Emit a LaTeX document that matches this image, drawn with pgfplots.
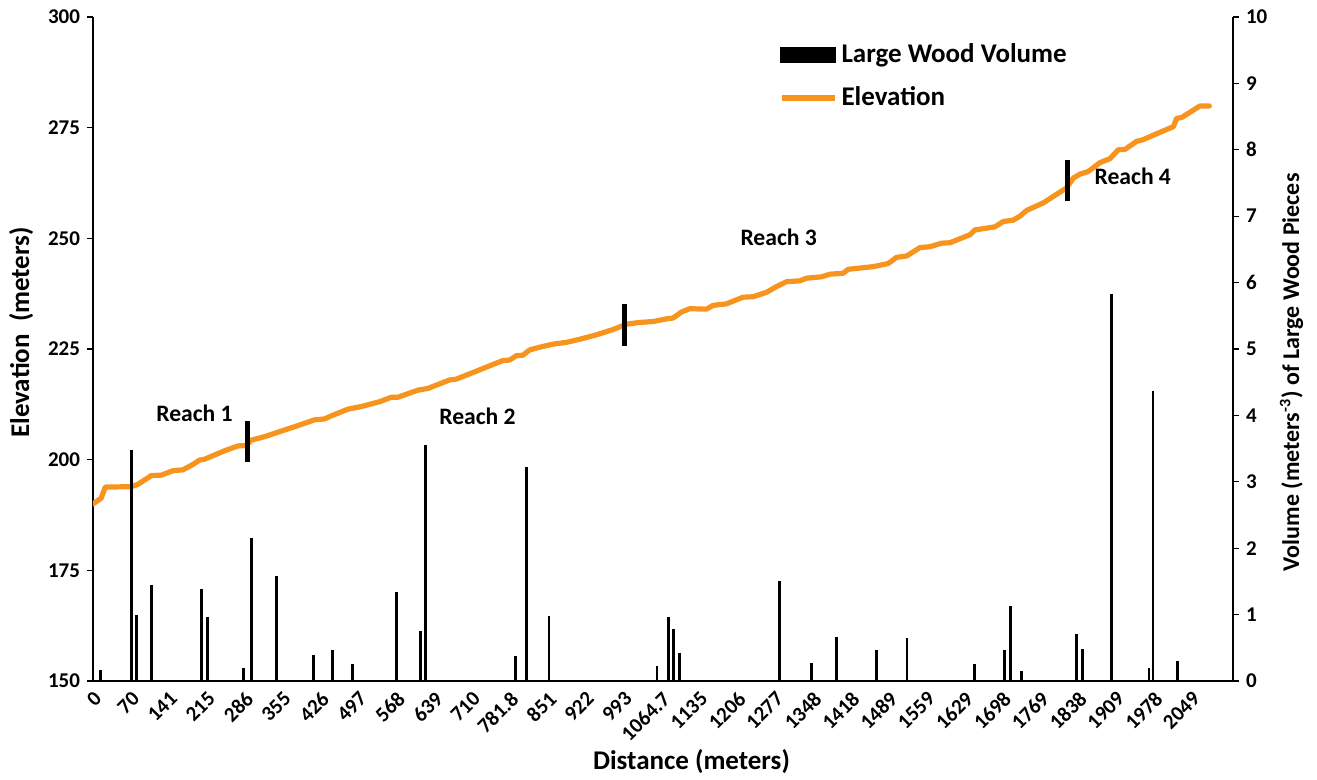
\documentclass[border=0pt]{standalone}
\usepackage{pgfplots}
\pgfplotsset{compat=1.18}
\usepackage{fontspec}
\setmainfont{Carlito}
\definecolor{elev}{RGB}{247,148,29}

\pgfplotstableread{
x y
0 190.0
15.3 191.3
22.8 193.8
71.3 193.9
83.6 194.4
108.6 196.4
127.3 196.5
148.9 197.5
167.6 197.7
186.2 198.9
198.8 199.9
208.1 200.1
245.4 202.0
270.2 203.1
285.9 203.2
295.2 204.4
320.1 205.2
344.9 206.2
382.2 207.7
413.4 209.0
432.0 209.2
444.5 209.9
475.5 211.4
500.5 212.0
534.7 213.1
556.5 214.1
568.8 214.1
606.1 215.7
624.8 216.1
665.3 218.0
677.8 218.2
721.3 220.3
764.8 222.4
777.3 222.5
789.8 223.5
802.1 223.6
814.6 224.8
833.3 225.4
858.1 226.1
883.1 226.5
907.9 227.2
939.1 228.2
970.1 229.4
995.1 230.6
1019.9 231.0
1044.7 231.2
1069.7 231.8
1082.0 232.0
1097.7 233.35
1113.2 234.1
1144.3 234.0
1156.7 234.85
1181.7 235.2
1212.7 236.7
1231.3 236.8
1256.3 237.8
1275.0 239.1
1293.6 240.2
1318.5 240.4
1331.0 241.0
1358.9 241.3
1374.4 241.9
1399.3 242.1
1408.6 243.0
1455.3 243.6
1483.2 244.3
1498.9 245.7
1517.6 246.0
1542.4 247.9
1561.1 248.1
1582.9 248.9
1598.4 249.0
1635.7 250.8
1645.1 251.9
1666.9 252.3
1682.4 252.6
1697.9 253.8
1716.5 254.1
1729.0 255.0
1741.5 256.3
1772.5 258.0
1794.3 259.7
1816.2 261.4
1828.5 263.6
1841.0 264.5
1856.5 265.1
1878.3 267.1
1897.0 268.0
1912.5 270.0
1925.0 270.1
1946.8 271.9
1959.1 272.3
1977.8 273.3
2008.9 274.9
2015.1 275.2
2021.4 277.1
2030.8 277.3
2064.9 279.9
2082.3 279.9
}\elevtable

\pgfplotstableread{
x v
13.4 0.16
71.3 3.48
81.2 1.00
109.7 1.44
202.5 1.39
213.1 0.96
280.3 0.20
296.4 2.16
342.4 1.58
411.5 0.39
446.4 0.47
484.3 0.26
566.4 1.34
611.2 0.76
620.0 3.55
787.9 0.38
809.0 3.22
850.6 0.98
1052.2 0.23
1074.0 0.97
1083.4 0.78
1094.6 0.42
1280.2 1.50
1340.9 0.27
1387.0 0.66
1462.2 0.47
1518.2 0.65
1643.8 0.26
1700.1 0.46
1711.3 1.13
1731.5 0.15
1834.1 0.71
1845.3 0.48
1900.2 5.83
1969.8 0.20
1977.3 4.36
2023.4 0.30
}\woodtable

\begin{document}
\begin{tikzpicture}
\path[use as bounding box] (-46.5pt,-49.5pt) rectangle (612pt,340.5pt);
\pgfplotsset{
  every axis/.append style={
    scale only axis, width=570pt, height=332pt,
    xmin=0, xmax=2126.5, at={(0,0)}, anchor=south west,
    axis line style={black, line width=0.7pt},
    tick align=outside, major tick length=3pt,
    tick style={black, line width=0.6pt},
    tick label style={font=\bfseries\fontsize{10.5}{12}\selectfont},
    label style={font=\bfseries\fontsize{13.5}{15}\selectfont},
    /pgf/number format/assume math mode=true,
  }
}
\begin{axis}[
  axis x line*=bottom, axis y line*=left,
  ymin=150, ymax=300, ytick={150,175,...,300},
  xtick={0,70.655,141.31,211.97,282.62,353.28,423.93,494.59,565.24,635.90,706.55,777.21,847.86,918.52,989.17,1059.83,1130.48,1201.14,1271.79,1342.45,1413.10,1483.76,1554.41,1625.07,1695.72,1766.38,1837.03,1907.69,1978.34,2049.00},
  xticklabels={0,70,141,215,286,355,426,497,568,639,710,781.8,851,922,993,1064.7,1135,1206,1277,1348,1418,1489,1559,1629,1698,1769,1838,1909,1978,2049},
  xtick style={draw=none},
  xticklabel style={rotate=45, anchor=north east, inner sep=1pt},
  xlabel={Distance (meters)},
  ylabel={Elevation\ \ (meters)},
  xlabel style={at={(axis description cs:0.525,-0.134)}, anchor=base},
  ylabel style={at={(axis description cs:-0.056,0.525)}, anchor=base},
]
\addplot[elev, line width=2.6pt, line join=round, line cap=round] table[x=x,y=y] {\elevtable};
\addplot[black, line width=2.6pt] coordinates {(288.3,199.5) (288.3,208.7)};
\addplot[black, line width=2.6pt] coordinates {(991.9,225.7) (991.9,235.1)};
\addplot[black, line width=2.6pt] coordinates {(1818.5,258.4) (1818.5,267.7)};
\node[font=\bfseries\fontsize{11.8}{13}\selectfont] at (axis cs:189.4,210.36) {Reach 1};
\node[font=\bfseries\fontsize{11.8}{13}\selectfont] at (axis cs:717.2,209.9) {Reach 2};
\node[font=\bfseries\fontsize{11.8}{13}\selectfont] at (axis cs:1279,250.2) {Reach 3};
\node[font=\bfseries\fontsize{11.8}{13}\selectfont] at (axis cs:1939.6,263.9) {Reach 4};
\end{axis}
\begin{axis}[
  axis y line*=right, axis x line=none,
  ymin=0, ymax=10, ytick={0,1,...,10},
  ylabel={Volume (meters\textsuperscript{-3}) of Large Wood Pieces},
  ylabel style={at={(axis description cs:1.058,0.465)}, anchor=base, font=\bfseries\fontsize{12}{14}\selectfont},
  legend style={at={(axis description cs:0.601,0.966)}, anchor=north west, draw=none, fill=none,
    font=\bfseries\fontsize{13.5}{15}\selectfont, inner sep=0pt, row sep=6.5pt},
  legend cell align=left,
]
\addplot[black, line width=1.4pt, ycomb, mark=none,
  legend image code/.code={\fill[black] (0pt,-3.5pt) rectangle (26.5pt,3.5pt);}] table[x=x,y=v] {\woodtable};
\addlegendentry{Large Wood Volume}
\addlegendimage{legend image code/.code={\draw[elev, line width=3pt] (0pt,0pt) -- (26.5pt,0pt);}}
\addlegendentry{Elevation}
\end{axis}
\end{tikzpicture}
\end{document}
